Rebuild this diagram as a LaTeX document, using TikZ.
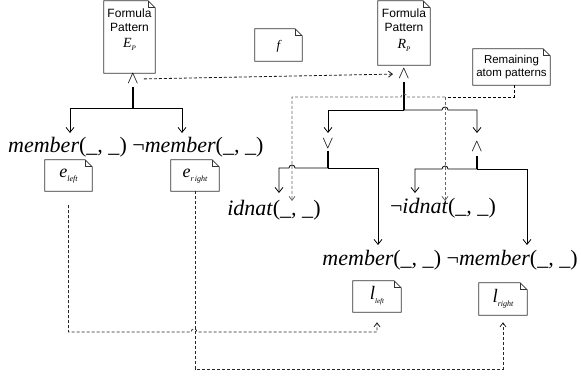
\documentclass[tikz,border=0pt]{standalone}
\usepackage{fontspec}
\setmainfont{Liberation Serif}
\setsansfont{Liberation Sans}
\usetikzlibrary{arrows.meta}
\newcommand\sbs[2]{\raisebox{-0.45ex}{\fontsize{#1}{#1}\selectfont\itshape #2}}
\newcommand\atm[1]{#1\textup{(}\_, \_\textup{)}}
\newcommand\mkdoc[5]{%
  \node[inner sep=0pt, minimum width=#4pt, minimum height=#5pt] (#1) at (#2,#3) {};
  \draw[docline] (#1.south west) -- (#1.north west) -- ([xshift=-7pt]#1.north east) -- ([yshift=-7pt]#1.north east) -- (#1.south east) -- cycle;
  \draw[docline] ([xshift=-7pt]#1.north east) |- ([yshift=-7pt]#1.north east);
}
\begin{document}
\begin{tikzpicture}[x=1pt,y=-1pt,
  docline/.style={draw=black!80, line width=0.8pt, line join=miter},
  sans/.style={font=\sffamily\fontsize{12}{14}\selectfont, align=center, inner sep=0pt},
  big/.style={font=\itshape\fontsize{22}{24}\selectfont, inner sep=0pt},
  op/.style={font=\LARGE, inner sep=0pt},
  boxtxt/.style={font=\itshape, inner sep=0pt},
  tree/.style={draw=black, line width=0.8pt},
  stub/.style={draw=black, line width=1.3pt},
  arr/.style={tree, -{Straight Barb[length=5pt,width=8pt]}},
  dsh/.style={dash pattern=on 3pt off 2pt, line width=0.8pt},
  darr/.style={dsh, -{Straight Barb[length=4pt,width=6pt]}},
]
\useasboundingbox (0,0) rectangle (581,379);

% document boxes
\mkdoc{ep}{129.5}{37}{51}{72}
\mkdoc{rp}{404}{33}{52}{64}
\mkdoc{fb}{278.5}{45}{47}{32}
\mkdoc{rem}{511.5}{67}{77}{36}
\mkdoc{el}{68.5}{175.5}{47}{31}
\mkdoc{er}{195}{175.5}{48}{31}
\mkdoc{ll}{377}{296.5}{48}{31}
\mkdoc{lr}{503}{299}{48}{32}

% box texts
\node[sans] (epT) at (129.5,20) {Formula\\Pattern};
\node[boxtxt, font=\itshape\fontsize{14}{14}\selectfont] (epS) at (129.5,44) {E\sbs{7}{P}};
\node[sans] (rpT) at (404,20) {Formula\\Pattern};
\node[boxtxt, font=\itshape\fontsize{14}{14}\selectfont] (rpS) at (404,45) {R\sbs{7}{P}};
\node[boxtxt, font=\itshape\fontsize{13}{13}\selectfont] (fT) at (278.5,46) {f};
\node[sans, font=\sffamily\fontsize{11.5}{13.5}\selectfont] (remT) at (511.5,67) {Remaining\\atom patterns};
\node[boxtxt, font=\itshape\fontsize{18}{18}\selectfont] (elT) at (68.5,176) {e\sbs{8}{left}};
\node[boxtxt, font=\itshape\fontsize{18}{18}\selectfont] (erT) at (195,176) {e\sbs{8}{r\,ight}};
\node[boxtxt, font=\itshape\fontsize{19}{19}\selectfont] (llT) at (377,296) {l\sbs{7}{left}};
\node[boxtxt, font=\itshape\fontsize{19}{19}\selectfont] (lrT) at (503,299) {l\sbs{8}{right}};

% operators
\node[op] (andE) at (133,79) {$\wedge$};
\node[op] (andR) at (404,74) {$\wedge$};
\node[op] (orN) at (328,144) {$\vee$};
\node[op] (and2) at (477,147) {$\wedge$};

% atoms
\node[big, anchor=west] (memL) at (8,147) {\atm{member}};
\node[big, anchor=west] (memR) at ([xshift=5pt]memL.east) {\atm{{\upshape ¬}member}};
\node[big] (idn) at (274,210) {\atm{idnat}};
\node[big] (nidn) at (443,208) {\atm{{\upshape ¬}idnat}};
\node[big, anchor=east] (mem2R) at (578,260) {\atm{{\upshape ¬}member}};
\node[big, anchor=east] (mem2L) at ([xshift=-5pt]mem2R.west) {\atm{member}};

% junctions and arrow targets
\coordinate (jE) at (133,108);
\coordinate (tmemL) at (70,133);
\coordinate (tmemR) at (182,133);
\coordinate (jR) at (404,110);
\coordinate (tOr) at (328,133);
\coordinate (tAnd2) at (477,133);
\coordinate (jOr) at (328,168);
\coordinate (tIdn) at (279,193);
\coordinate (tMem2L) at (378,245);
\coordinate (jA2) at (477,169);
\coordinate (tNidn) at (415,193);
\coordinate (tMem2R) at (527,245);
\coordinate (jRem) at (445,97);
\coordinate (tIdnD) at (292,201);
\coordinate (tNidnD) at (445,201);

% left tree
\draw[stub] ([yshift=-3pt]andE.south) -- (jE);
\draw[arr] (jE) -| (tmemL);
\draw[arr] (jE) -| (tmemR);

% E_P to R_P
\draw[darr, black!90, shorten <=5pt, shorten >=5pt] (andE.east) -- (andR.west);

% right tree
\draw[stub] ([yshift=-3pt]andR.south) -- (jR);
\draw[arr] (jR) -| (tOr);
\draw[arr] (jR) -- (442,110) arc[start angle=180, end angle=0, radius=3pt] -- (477,110) -- (tAnd2);

\draw[stub] ([yshift=-2pt]orN.south) -- (jOr);
\draw[arr] (jOr) -- (295,168) arc[start angle=0, end angle=180, radius=3pt] -- (279,168) -- (tIdn);
\draw[arr] (jOr) -| (tMem2L);

\draw[stub] ([yshift=-4pt]and2.south) -- (jA2);
\draw[arr] (jA2) -- (448,169) arc[start angle=0, end angle=180, radius=3pt] -- (415,169) -- (tNidn);
\draw[arr] (jA2) -| (tMem2R);

% remaining atom patterns
\draw[dsh, black] ([xshift=2.5pt]rem.south) |- (jRem);
\draw[darr, black!60] (jRem) -- (407,97) arc[start angle=0, end angle=180, radius=3pt] -- (292,97) -- (tIdnD);
\draw[darr, black!60] (jRem) -- (tNidnD);

% e to l
\draw[darr, black!85, shorten <=14pt, shorten >=10pt] (el.south) -- (68.5,332) -- (191,332) arc[start angle=180, end angle=0, radius=3pt] -- (377,332) -- (ll.south);
\draw[darr, black!85, shorten >=7pt] (er.south) -- (195,369) -| (lr.south);
\end{tikzpicture}
\end{document}
